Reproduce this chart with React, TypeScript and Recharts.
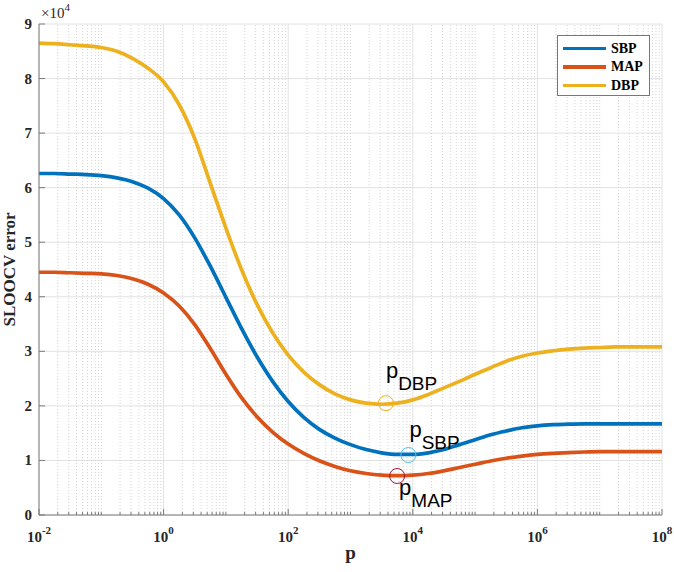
import React from 'react';
import { ComposedChart, Line, XAxis, YAxis, CartesianGrid, ReferenceLine, ReferenceDot } from 'recharts';

// regularisation parameter p (log axis)
const pValues = [
  1e-2, 1.78e-2, 3.16e-2, 5.62e-2, 1e-1, 1.78e-1, 3.16e-1, 5.62e-1,
  1, 1.78, 3.16, 5.62, 10, 17.8, 31.6, 56.2,
  100, 178, 316, 562, 1e3, 1.78e3, 3.16e3, 5.62e3,
  1e4, 1.78e4, 3.16e4, 5.62e4, 1e5, 1.78e5, 3.16e5, 5.62e5,
  1e6, 1.78e6, 3.16e6, 5.62e6, 1e7, 1.78e7, 3.16e7, 5.62e7, 1e8,
];

const sbpError = [
  62600, 62600, 62500, 62400, 62200, 61800, 61100, 59900,
  58000, 55000, 50800, 45600, 39900, 34200, 29000, 24500,
  20800, 17900, 15700, 14100, 12900, 12000, 11400, 11100,
  11100, 11400, 12000, 12900, 13800, 14700, 15400, 16000,
  16350, 16550, 16650, 16700, 16700, 16700, 16700, 16700, 16700,
];

const mapError = [
  44500, 44500, 44400, 44300, 44200, 43900, 43300, 42300,
  40700, 38300, 34900, 30500, 25800, 21500, 18000, 15200,
  13000, 11300, 9950, 8900, 8100, 7600, 7300, 7200,
  7300, 7600, 8100, 8700, 9300, 9900, 10400, 10800,
  11100, 11300, 11450, 11550, 11600, 11600, 11600, 11600, 11600,
];

const dbpError = [
  86500, 86400, 86200, 86000, 85700, 85000, 83700, 81900,
  79400, 75200, 69000, 60800, 52600, 45000, 38600, 33400,
  29300, 26200, 23900, 22200, 21100, 20500, 20300, 20500,
  21100, 22100, 23300, 24500, 25800, 27000, 28200, 29100,
  29700, 30100, 30400, 30600, 30700, 30800, 30800, 30800, 30800,
];

const seriesNames = ['SBP', 'MAP', 'DBP'];
const seriesColors = ['#0072BD', '#D95319', '#EDB120'];

// optimum p (minimum of each curve)
const optimumP = [8500, 5600, 3700];
const optimumError = [11000, 7150, 20500];
const optimumColors = ['#4DBEEE', '#A2142F', '#EDB120'];

const majorXTicks = [1e-2, 1, 1e2, 1e4, 1e6, 1e8];
const majorXExponents = ['-2', '0', '2', '4', '6', '8'];
const yTicks = [0, 10000, 20000, 30000, 40000, 50000, 60000, 70000, 80000, 90000];
const yTickLabels = ['0', '1', '2', '3', '4', '5', '6', '7', '8', '9'];

const minorXTicks: number[] = [];
for (let k = -2; k < 8; k++) {
  for (let m = 2; m <= 9; m++) minorXTicks.push(m * Math.pow(10, k));
  if (k > -2 && (k % 2 !== 0)) minorXTicks.push(Math.pow(10, k));
}
const allXTicks = [...majorXTicks, ...minorXTicks].sort((a, b) => a - b);

const data = pValues.map((p, i) => ({
  p,
  SBP: sbpError[i],
  MAP: mapError[i],
  DBP: dbpError[i],
}));

const AXIS = '#7a7a7a';
const TEXT = '#262626';
const SERIF = '"Liberation Serif", "Times New Roman", serif';
const SANS = '"Liberation Sans", Arial, sans-serif';

const XTick = (props: any) => {
  const { x, y, payload } = props;
  const idx = majorXTicks.indexOf(payload.value);
  const major = idx >= 0;
  return (
    <g>
      <line x1={x} x2={x} y1={y} y2={y - (major ? 6 : 3)} stroke={AXIS} strokeWidth={1} />
      {major && (
        <text x={x} y={y + 27} textAnchor="middle" fontFamily={SERIF} fontWeight="bold" fontSize={15} fill={TEXT}>
          10
          <tspan dy={-8} fontSize={11}>{majorXExponents[idx]}</tspan>
        </text>
      )}
    </g>
  );
};

const YTick = (props: any) => {
  const { x, y, payload } = props;
  const idx = yTicks.indexOf(payload.value);
  return (
    <g>
      <line x1={x} x2={x + 6} y1={y} y2={y} stroke={AXIS} strokeWidth={1} />
      <text x={x - 7} y={y + 5} textAnchor="end" fontFamily={SERIF} fontWeight="bold" fontSize={15} fill={TEXT}>
        {yTickLabels[idx]}
      </text>
      {idx === yTicks.length - 1 && (
        <text x={x + 2} y={y - 6} fontFamily={SERIF} fontSize={15} fill={TEXT}>
          ×10
          <tspan dy={-7} fontSize={11}>4</tspan>
        </text>
      )}
    </g>
  );
};

const labelOffsets: Record<string, [number, number]> = {
  SBP: [1, -18],
  MAP: [2, 19],
  DBP: [0, -25],
};

const makeMarker = (name: string, color: string) => (props: any) => {
  const { cx, cy } = props;
  const [dx, dy] = labelOffsets[name];
  return (
    <g>
      <circle cx={cx} cy={cy} r={7.5} fill="none" stroke={color} strokeWidth={1} />
      <text x={cx + dx} y={cy + dy} fontFamily={SANS} fontSize={22} fill="#000">
        p
        <tspan dy={12} fontSize={19}>{name}</tspan>
      </text>
    </g>
  );
};

export default function App() {
  return (
    <div style={{ position: 'absolute', left: 0, top: 0, width: 674, height: 572, background: '#fff' }}>
      <ComposedChart width={674} height={572} data={data} margin={{ top: 24, right: 12, bottom: 0, left: 0 }}>
        <CartesianGrid vertical={false} stroke="#e2e2e2" />
        {minorXTicks.map((v) => (
          <ReferenceLine key={'m' + v} x={v} stroke="#d4d4d4" strokeDasharray="1 2" strokeWidth={1} />
        ))}
        {majorXTicks.map((v) => (
          <ReferenceLine key={'M' + v} x={v} stroke="#e2e2e2" strokeWidth={1} />
        ))}
        <XAxis
          dataKey="p"
          type="number"
          scale="log"
          domain={[1e-2, 1e8]}
          ticks={allXTicks}
          interval={0}
          tickSize={0}
          tickMargin={0}
          tickLine={false}
          axisLine={{ stroke: AXIS }}
          tick={<XTick />}
          height={57}
          allowDataOverflow
          label={{
            content: (p: any) => {
              const vb = p.viewBox;
              return (
                <text x={vb.x + vb.width / 2} y={559} textAnchor="middle" fontFamily={SERIF} fontWeight="bold" fontSize={19} fill={TEXT}>
                  p
                </text>
              );
            },
          }}
        />
        <YAxis
          type="number"
          domain={[0, 90000]}
          ticks={yTicks}
          interval={0}
          tickSize={0}
          tickMargin={0}
          tickLine={false}
          axisLine={{ stroke: AXIS }}
          tick={<YTick />}
          width={39}
          label={{
            content: (p: any) => {
              const vb = p.viewBox;
              const cy = vb.y + vb.height / 2;
              return (
                <text x={15} y={cy} transform={`rotate(-90, 15, ${cy})`} textAnchor="middle" fontFamily={SERIF} fontWeight="bold" fontSize={17} fill={TEXT}>
                  SLOOCV error
                </text>
              );
            },
          }}
        />
        {seriesNames.map((name, i) => (
          <Line
            key={name}
            type="monotone"
            dataKey={name}
            stroke={seriesColors[i]}
            strokeWidth={3.7}
            dot={false}
            activeDot={false}
            isAnimationActive={false}
          />
        ))}
        {seriesNames.map((name, i) => (
          <ReferenceDot
            key={'o' + name}
            x={optimumP[i]}
            y={optimumError[i]}
            r={7.5}
            shape={makeMarker(name, optimumColors[i])}
          />
        ))}
      </ComposedChart>
      <div
        style={{
          position: 'absolute',
          left: 557,
          top: 35,
          width: 93,
          height: 61,
          border: '1px solid #777',
          background: '#fff',
          boxSizing: 'border-box',
        }}
      >
        {seriesNames.map((name, i) => (
          <div key={name} style={{ position: 'absolute', left: 5, top: 4 + i * 18.4, height: 17, display: 'flex', alignItems: 'center' }}>
            <div style={{ width: 43, height: 3.5, background: seriesColors[i] }} />
            <span style={{ marginLeft: 5, fontFamily: SERIF, fontWeight: 'bold', fontSize: 14, color: '#000', lineHeight: '17px' }}>
              {name}
            </span>
          </div>
        ))}
      </div>
    </div>
  );
}
